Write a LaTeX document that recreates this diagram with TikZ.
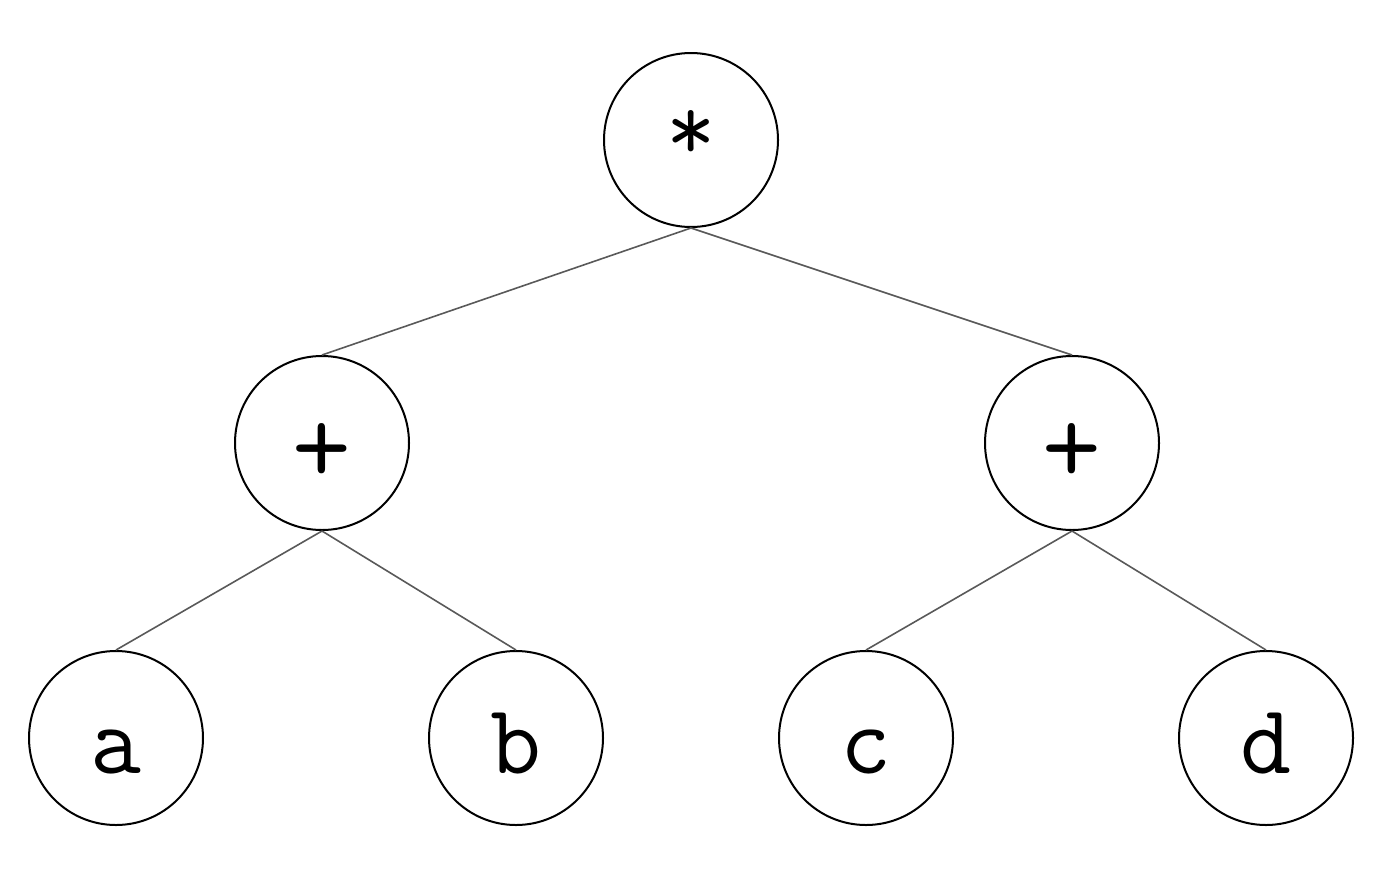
\documentclass[tikz,border=0pt]{standalone}
\usepackage{fontspec}
\newcommand{\symsz}{\fontsize{114}{114}\selectfont}
\newcommand{\astsz}{\fontsize{96}{96}\selectfont}
\begin{document}
\begin{tikzpicture}[x=1pt,y=-1pt,
  treenode/.style={circle,draw=black,line width=2pt,minimum size=174pt,inner sep=0pt,
    font=\ttfamily\fontsize{99}{99}\selectfont,text height=70pt,text depth=0pt},
  edge/.style={draw=black!65,line width=1.6pt}]
\useasboundingbox (0,0) rectangle (1396,878);
\node[treenode] (root) at (691,140) {\astsz\raisebox{15pt}{*}};
\node[treenode] (l) at (322,443) {\symsz\raisebox{-5pt}{+}};
\node[treenode] (r) at (1072,443) {\symsz\raisebox{-5pt}{+}};
\node[treenode] (a) at (116,738) {a};
\node[treenode] (b) at (516,738) {b};
\node[treenode] (c) at (866,738) {c};
\node[treenode] (d) at (1266,738) {d};
\draw[edge] (root.south) -- (l.north);
\draw[edge] (root.south) -- (r.north);
\draw[edge] (l.south) -- (a.north);
\draw[edge] (l.south) -- (b.north);
\draw[edge] (r.south) -- (c.north);
\draw[edge] (r.south) -- (d.north);
\end{tikzpicture}
\end{document}
